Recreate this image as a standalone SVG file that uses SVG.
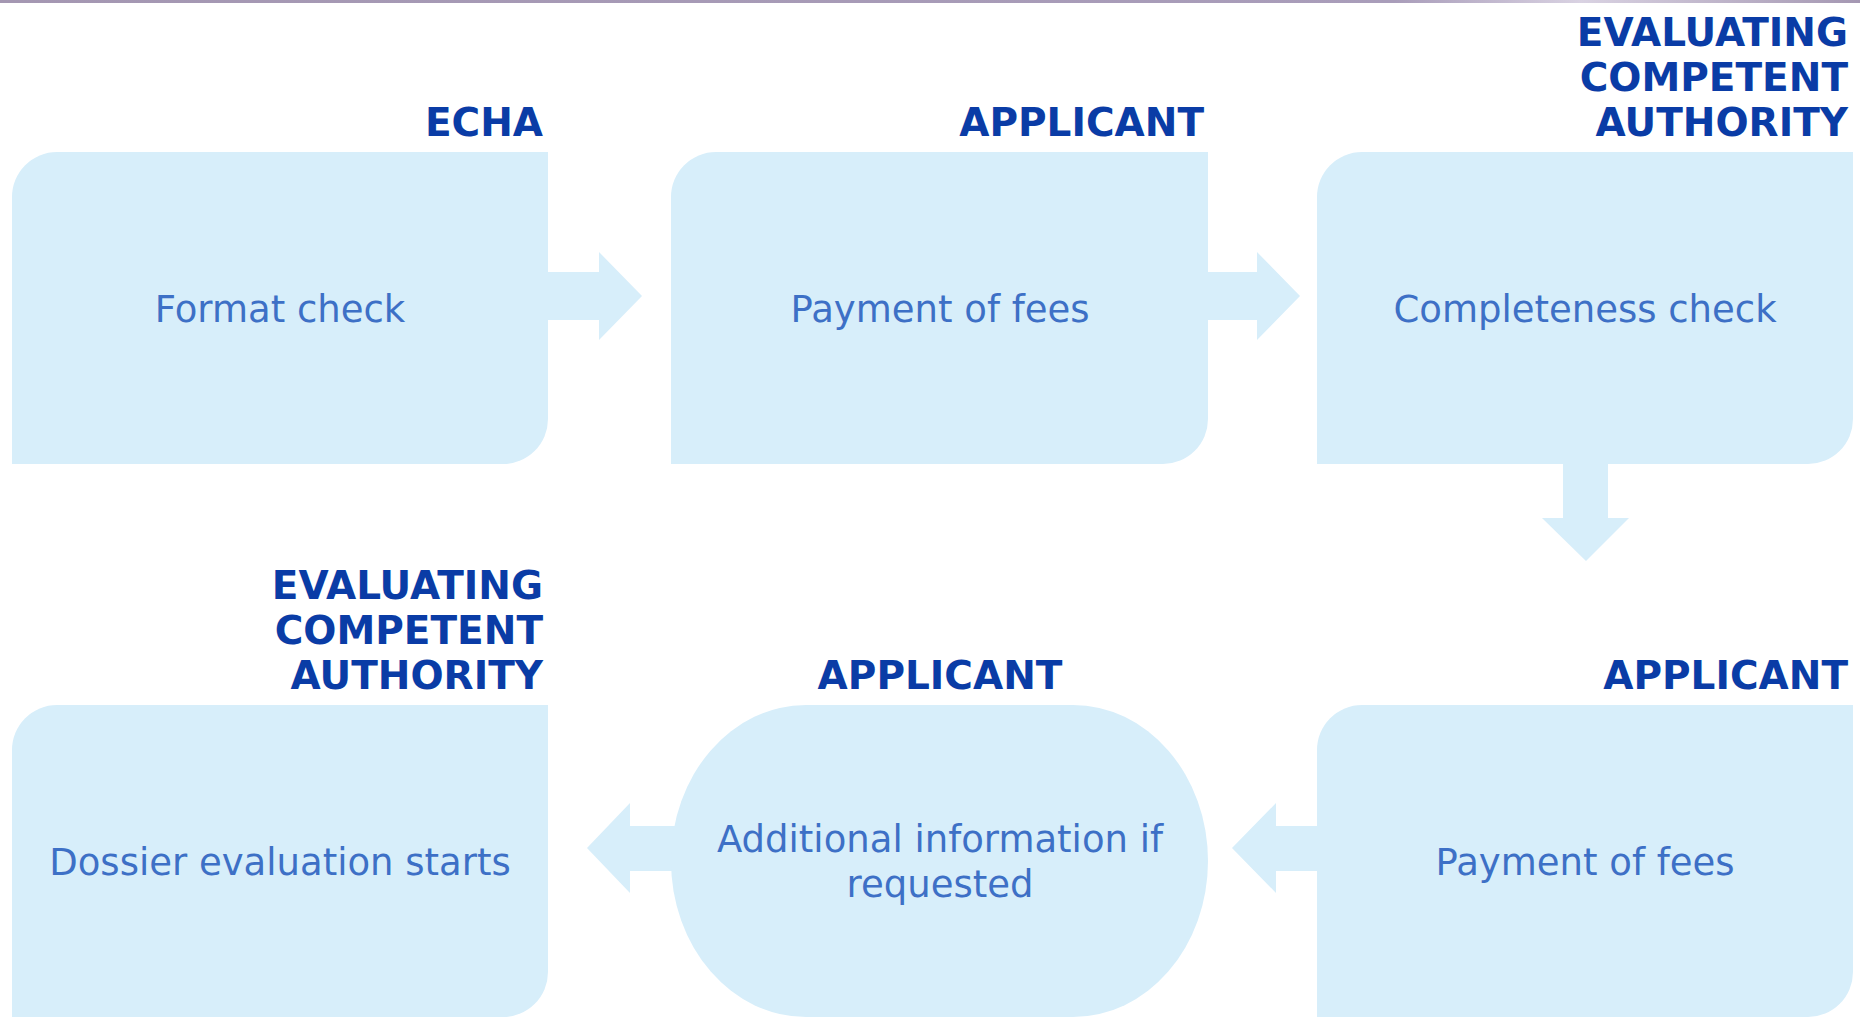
<svg xmlns="http://www.w3.org/2000/svg" width="1860" height="1019" viewBox="0 0 1860 1019">
  <defs>
    <style>
      .box { fill: #d7eefa; }
      .arrow { fill: #d7eefa; }
      .role { font-family: "DejaVu Sans", Verdana, sans-serif; font-weight: bold; font-size: 39px; fill: #0a3ca6; text-anchor: end; }
      .role-mid { text-anchor: middle; }
      .label { font-family: "DejaVu Sans", Verdana, sans-serif; font-size: 37px; fill: #3d70c6; text-anchor: middle; }
    </style>
    <linearGradient id="topline" x1="0" y1="0" x2="1" y2="0">
      <stop offset="0" stop-color="#a497b2"/>
      <stop offset="0.75" stop-color="#a99dba"/>
      <stop offset="0.85" stop-color="#d9d2e2"/>
      <stop offset="1" stop-color="#a497b2"/>
    </linearGradient>
  </defs>
  <rect x="0" y="0" width="1860" height="1019" fill="#ffffff"/>
  <rect x="0" y="0" width="1860" height="3" fill="url(#topline)"/>

  <g id="connectors">
    <path class="arrow" d="M548 272 H599 V252 L642 296 L599 340 V320 H548 Z"/>
    <path class="arrow" d="M1208 272 H1257 V252 L1300 296 L1257 340 V320 H1208 Z"/>
    <path class="arrow" d="M1563 464 V518 H1542 L1586 561 L1629 518 H1608 V464 Z"/>
    <path class="arrow" d="M1317 826 H1276 V803 L1232 848 L1276 893 V871 H1317 Z"/>
    <path class="arrow" d="M700 826 H630 V803 L587 848 L630 893 V871 H700 Z"/>
  </g>

  <g id="node-format-check">
    <text class="role" x="543" y="136">ECHA</text>
    <path class="box" d="M57 152 H548 V419 A45 45 0 0 1 503 464 H12 V197 A45 45 0 0 1 57 152 Z"/>
    <text class="label" x="280" y="322">Format check</text>
  </g>

  <g id="node-payment-1">
    <text class="role" x="1204" y="136">APPLICANT</text>
    <path class="box" d="M716 152 H1208 V419 A45 45 0 0 1 1163 464 H671 V197 A45 45 0 0 1 716 152 Z"/>
    <text class="label" x="940" y="322">Payment of fees</text>
  </g>

  <g id="node-completeness-check">
    <text class="role" x="1848" y="46">EVALUATING</text>
    <text class="role" x="1848" y="91">COMPETENT</text>
    <text class="role" x="1848" y="136">AUTHORITY</text>
    <path class="box" d="M1362 152 H1853 V419 A45 45 0 0 1 1808 464 H1317 V197 A45 45 0 0 1 1362 152 Z"/>
    <text class="label" x="1585" y="322">Completeness check</text>
  </g>

  <g id="node-payment-2">
    <text class="role" x="1848" y="689">APPLICANT</text>
    <path class="box" d="M1362 705 H1853 V972 A45 45 0 0 1 1808 1017 H1317 V750 A45 45 0 0 1 1362 705 Z"/>
    <text class="label" x="1585" y="875">Payment of fees</text>
  </g>

  <g id="node-additional-info">
    <text class="role role-mid" x="940" y="689">APPLICANT</text>
    <rect class="box" x="671" y="705" width="537" height="312" rx="135" ry="156"/>
    <text class="label" x="940" y="852">Additional information if</text>
    <text class="label" x="940" y="897">requested</text>
  </g>

  <g id="node-dossier-evaluation">
    <text class="role" x="543" y="599">EVALUATING</text>
    <text class="role" x="543" y="644">COMPETENT</text>
    <text class="role" x="543" y="689">AUTHORITY</text>
    <path class="box" d="M57 705 H548 V972 A45 45 0 0 1 503 1017 H12 V750 A45 45 0 0 1 57 705 Z"/>
    <text class="label" x="280" y="875">Dossier evaluation starts</text>
  </g>
</svg>
